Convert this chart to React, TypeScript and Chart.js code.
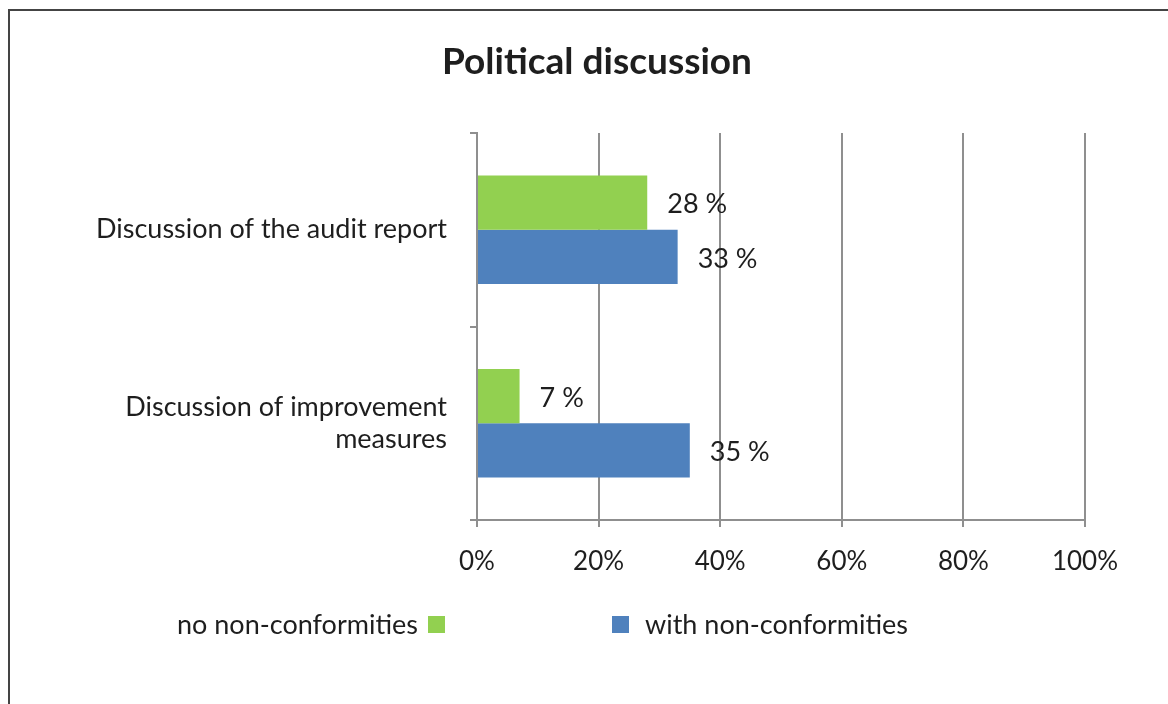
import React, { useEffect, useRef } from "react";
import { Chart, registerables } from "chart.js";

Chart.register(...registerables);

const TITLE = "Political discussion";
const CATEGORIES: (string | string[])[] = [
  "Discussion of the audit report",
  ["Discussion of improvement", "measures"],
];
const SERIES_NAMES = ["no non-conformities", "with non-conformities"];
const NO_NC = [28, 7];
const WITH_NC = [33, 35];
const X_TICKS = [0, 20, 40, 60, 80, 100];
const COLORS = ["#92D050", "#4F81BD"];

const FONT = "Lato, 'Open Sans', sans-serif";
const TEXT = "#1e1e1e";
const GRID = "#8f8f8f";

export default function App() {
  const ref = useRef<HTMLCanvasElement | null>(null);

  useEffect(() => {
    if (!ref.current) return;
    const framePlugin = {
      id: "frame",
      beforeDraw(chart: any) {
        const { ctx, width, height } = chart;
        ctx.save();
        ctx.fillStyle = "#ffffff";
        ctx.fillRect(0, 0, width, height);
        ctx.strokeStyle = "#444";
        ctx.lineWidth = 2;
        ctx.strokeRect(9, 10, width + 20, height + 20);
        ctx.fillStyle = TEXT;
        ctx.font = `bold 37px ${FONT}`;
        ctx.textAlign = "center";
        ctx.textBaseline = "middle";
        ctx.fillText(TITLE, 597, 62);
        ctx.restore();
      },
      afterDraw(chart: any) {
        const { ctx } = chart;
        ctx.save();
        ctx.font = `27px ${FONT}`;
        ctx.fillStyle = TEXT;
        ctx.textBaseline = "middle";
        const ly = 625;
        const ds0 = chart.data.datasets[0];
        ctx.textAlign = "right";
        ctx.fillText(ds0.label, 418, ly);
        ctx.fillStyle = ds0.backgroundColor;
        ctx.fillRect(428, ly - 9, 17, 17);
        const ds1 = chart.data.datasets[1];
        ctx.fillStyle = ds1.backgroundColor;
        ctx.fillRect(612, ly - 9, 17, 17);
        ctx.fillStyle = TEXT;
        ctx.textAlign = "left";
        ctx.fillText(ds1.label, 645, ly);
        ctx.restore();
      },
      afterDatasetsDraw(chart: any) {
        const { ctx } = chart;
        ctx.save();
        ctx.font = `27px ${FONT}`;
        ctx.fillStyle = TEXT;
        ctx.textAlign = "left";
        ctx.textBaseline = "middle";
        chart.data.datasets.forEach((ds: any, i: number) => {
          const meta = chart.getDatasetMeta(i);
          meta.data.forEach((bar: any, j: number) => {
            ctx.fillText(`${ds.data[j]} %`, bar.x + 20, bar.y + 2);
          });
        });
        ctx.restore();
      },
    };

    const chart = new Chart(ref.current, {
      type: "bar",
      data: {
        labels: CATEGORIES,
        datasets: [
          {
            label: SERIES_NAMES[0],
            data: NO_NC,
            backgroundColor: COLORS[0],
            categoryPercentage: 0.56,
            barPercentage: 1,
          },
          {
            label: SERIES_NAMES[1],
            data: WITH_NC,
            backgroundColor: COLORS[1],
            categoryPercentage: 0.56,
            barPercentage: 1,
          },
        ],
      },
      options: {
        indexAxis: "y",
        animation: false,
        responsive: true,
        maintainAspectRatio: false,
        layout: { padding: { top: 133, right: 83, bottom: 124, left: 0 } },
        plugins: {
          legend: { display: false },
          title: { display: false },
          tooltip: { enabled: false },
        },
        scales: {
          x: {
            min: X_TICKS[0],
            max: X_TICKS[X_TICKS.length - 1],
            afterBuildTicks(scale: any) {
              scale.ticks = X_TICKS.map((v) => ({ value: v }));
            },
            afterFit(scale: any) {
              scale.height = 60;
            },
            grid: {
              color: GRID,
              lineWidth: 2,
              drawTicks: true,
              tickLength: 7,
            },
            border: { color: GRID, width: 2 },
            ticks: {
              padding: 19,
              color: TEXT,
              font: { family: FONT, size: 26 },
              callback: (v: any) => `${v}%`,
            },
          },
          y: {
            afterFit(scale: any) {
              scale.width = 477;
            },
            grid: {
              drawOnChartArea: false,
              drawTicks: true,
              tickLength: 7,
              color: GRID,
              lineWidth: 2,
              offset: true,
            },
            border: { color: GRID, width: 2 },
            ticks: {
              padding: 23,
              color: TEXT,
              font: { family: FONT, size: 27, lineHeight: 1.2 },
            },
          },
        },
      },
      plugins: [framePlugin],
    } as any);
    return () => chart.destroy();
  }, []);

  return (
    <div style={{ position: "absolute", left: 0, top: 0, width: 1168, height: 704 }}>
      <canvas ref={ref} />
    </div>
  );
}
